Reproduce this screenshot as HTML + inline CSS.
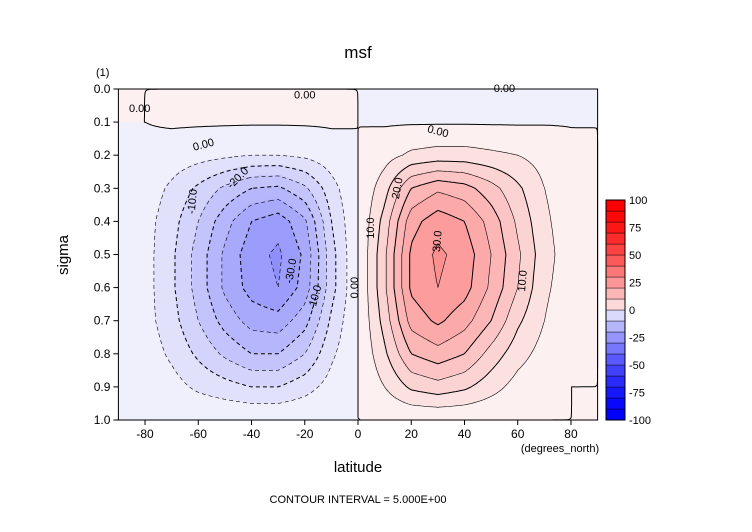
<!DOCTYPE html>
<html><head><meta charset="utf-8"><style>
body{margin:0;background:#fff;width:752px;height:532px;overflow:hidden;font-family:"Liberation Sans",sans-serif}
#wrap{position:relative;width:752px;height:532px}
canvas,svg{position:absolute;left:0;top:0}
</style></head><body>
<div id="wrap">
<canvas id="cv" width="752" height="532"></canvas>
<svg id="sv" width="752" height="532"></svg>
</div>
<script>
const lats=[-90,-80,-70,-60,-50,-40,-30,-20,-10,0,10,20,30,40,50,60,70,80,90];
const sigmas=[0,0.1,0.2,0.3,0.4,0.5,0.6,0.7,0.8,0.9,1.0];
const psi=[
[0,0,0,0,0,0,0,0,0,0,0,0,0,0,0,0,0,0,0],
[0,0,0.5,0.5,0.5,0.5,0.5,0.5,0.5,0,-0.5,-0.5,-0.5,-0.5,-0.5,-0.5,-0.3,-0.2,0],
[0,-1,-2,-3,-4,-5,-5,-4,-2,0,3,6,7,7,6,5,3,1,0],
[0,-2,-6,-11,-16,-20,-21,-16,-7,0,8,20,24,22,17,11,5,2,0],
[0,-3,-8,-15,-23,-30,-33,-26,-10,0,12,28,33,30,23,14,6,2,0],
[0,-3,-9,-17,-26,-33,-36,-29,-12,0,14,31,36,33,25,16,7,2,0],
[0,-3,-9,-17,-26,-32,-35,-28,-12,0,14,31,35,32,24,15,6,2,0],
[0,-3,-8,-15,-22,-27,-28,-22,-9,0,12,27,31,27,20,11,5,1,0],
[0,-2,-6,-11,-16,-20,-20,-15,-6,0,9,20,23,20,13,7,3,1,0],
[0,-1,-3,-6,-8,-10,-10,-7,-3,0,5,11,13,11,7,3,1,0,0],
[0,0,0,0,0,0,0,0,0,0,0,0,0,0,0,0,0,0,0]];
const xTicks=[-80,-60,-40,-20,0,20,40,60,80];
const yTicks=[0,0.1,0.2,0.3,0.4,0.5,0.6,0.7,0.8,0.9,1.0];
const cbTicks=[100,75,50,25,0,-25,-50,-75,-100];
const X0=118.4,X1=597.6,Y0=89,Y1=420;
const xs=v=>X0+(v+90)/180*(X1-X0);
const ys=v=>Y0+v*(Y1-Y0);
function val(la,s){
 let i=Math.min(17,Math.max(0,Math.floor((la+90)/10))),j=Math.min(9,Math.max(0,Math.floor(s*10)));
 let fx=(la-lats[i])/10,fy=(s-sigmas[j])/0.1;
 return psi[j][i]*(1-fx)*(1-fy)+psi[j][i+1]*fx*(1-fy)+psi[j+1][i]*(1-fx)*fy+psi[j+1][i+1]*fx*fy;}
function col(v){let a=Math.min(1,Math.abs(v)/100);let g=Math.round(255*Math.pow(1-a,1.5));
 return v>=0?`rgb(252,${g},${g})`:`rgb(${g},${g},252)`;}
function bandColor(v){let b=v>=0?Math.ceil(v/5)*5:Math.floor(v/5)*5;if(b===0)b=v>=0?5:-5;return col(b*0.8);}
const ctx=document.getElementById('cv').getContext('2d');
const NX=240,NY=160;
for(let a=0;a<NX;a++)for(let b=0;b<NY;b++){
 const la=-90+(a+0.5)/NX*180,s=(b+0.5)/NY;
 ctx.fillStyle=bandColor(val(la,s));
 ctx.fillRect(Math.floor(xs(-90+a/NX*180)),Math.floor(ys(b/NY)),Math.ceil((X1-X0)/NX)+1,Math.ceil((Y1-Y0)/NY)+1);}
const NS="http://www.w3.org/2000/svg",sv=document.getElementById('sv');
function el(t,at,txt){const e=document.createElementNS(NS,t);for(const k in at)e.setAttribute(k,at[k]);if(txt!==undefined)e.textContent=txt;sv.appendChild(e);return e;}
const G=[];for(let b=0;b<=NY;b++){G[b]=[];for(let a=0;a<=NX;a++)G[b][a]=val(-90+a/NX*180,b/NY);}
function chain(segs){
 const key=p=>p[0].toFixed(2)+','+p[1].toFixed(2);const m=new Map();
 segs.forEach((s,i)=>{[0,1].forEach(e=>{const k=key(s[e]);if(!m.has(k))m.set(k,[]);m.get(k).push([i,e]);});});
 const used=new Array(segs.length).fill(false);let d='';
 for(let i=0;i<segs.length;i++){if(used[i])continue;used[i]=true;let line=[segs[i][0],segs[i][1]];
  for(const dir of [1,0]){let cur=dir?line[line.length-1]:line[0];
   while(true){const c=(m.get(key(cur))||[]).find(q=>!used[q[0]]);if(!c)break;used[c[0]]=true;const nx=segs[c[0]][1-c[1]];
    if(dir)line.push(nx);else line.unshift(nx);cur=nx;}}
  d+='M'+line.map(p=>p[0].toFixed(1)+' '+p[1].toFixed(1)).join('L');}
 return d;}
for(let L=-35;L<=35;L+=5){
 const lv=L===0?0.001:L,segs=[];
 for(let b=0;b<NY;b++)for(let a=0;a<NX;a++){
  const c=[[a,b],[a+1,b],[a+1,b+1],[a,b+1]],v=c.map(p=>G[p[1]][p[0]]-lv),pts=[];
  for(let k=0;k<4;k++){const k2=(k+1)%4;if((v[k]<0)!==(v[k2]<0)){const t=v[k]/(v[k]-v[k2]);
   const px=c[k][0]+t*(c[k2][0]-c[k][0]),py=c[k][1]+t*(c[k2][1]-c[k][1]);
   pts.push([xs(-90+px/NX*180),ys(py/NY)]);}}
  for(let k=0;k+1<pts.length;k+=2)segs.push([pts[k],pts[k+1]]);}
 const p=el('path',{d:chain(segs),fill:'none',stroke:'#000','stroke-width':L%10===0?1:0.6});
 if(L<0)p.setAttribute('stroke-dasharray','4 3');
 
 }
[[-25,0.55,'-30.0',-80],[-45,0.27,'-20.0',-45],[-62,0.34,'-10.0',-85],[-16,0.63,'-10.0',-75],[-1,0.6,'0.00',-90],[30,0.46,'30.0',-85],[15,0.3,'20.0',-80],[5,0.42,'10.0',-90],[62,0.58,'10.0',-85],[-58,0.17,'0.00',-15],[30,0.13,'0.00',15],[-82,0.06,'0.00',0],[-20,0.02,'0.00',0],[55,0.0,'0.00',0]].forEach(q=>{
 const t=el('text',{x:xs(q[0]),y:ys(q[1]),'font-size':11,'text-anchor':'middle','dominant-baseline':'middle',transform:`rotate(${q[3]} ${xs(q[0])} ${ys(q[1])})`,fill:'#000'},q[2]);
 });
el('rect',{x:X0,y:Y0,width:X1-X0,height:Y1-Y0,fill:'none',stroke:'#000','stroke-width':1,});
xTicks.forEach(v=>{el('line',{x1:xs(v),x2:xs(v),y1:Y1,y2:Y1+5,stroke:'#000'});
 const t=el('text',{x:xs(v),y:Y1+18,'font-size':12,'text-anchor':'middle'},v);});
yTicks.forEach(v=>{el('line',{x1:X0-5,x2:X0,y1:ys(v),y2:ys(v),stroke:'#000'});
 const t=el('text',{x:X0-8,y:ys(v)+4,'font-size':12,'text-anchor':'end'},v.toFixed(1));});
el('text',{x:358,y:58,'font-size':17,'text-anchor':'middle',},'msf');
el('text',{x:96,y:76,'font-size':11,},'(1)');
el('text',{x:358,y:472,'font-size':15,'text-anchor':'middle',},'latitude');
el('text',{x:68,y:255,'font-size':15,'text-anchor':'middle',transform:'rotate(-90 68 255)',},'sigma');
el('text',{x:560,y:452,'font-size':11,'text-anchor':'middle',},'(degrees_north)');
el('text',{x:358,y:503,'font-size':11,'text-anchor':'middle',},'CONTOUR INTERVAL = 5.000E+00');
const CX=606,CW=19,CY0=200,CY1=420,cy=v=>CY0+(100-v)/200*(CY1-CY0);
for(let v=-100;v<100;v+=10){const r=el('rect',{x:CX,y:cy(v+10),width:CW,height:cy(v)-cy(v+10),fill:col(v+5>0?v+10:v),stroke:'#000','stroke-width':0.4});
 }
el('rect',{x:CX,y:CY0,width:CW,height:CY1-CY0,fill:'none',stroke:'#000',});
cbTicks.forEach(v=>{const t=el('text',{x:CX+CW+4,y:cy(v)+4,'font-size':11},v);});
</script>
</body></html>
